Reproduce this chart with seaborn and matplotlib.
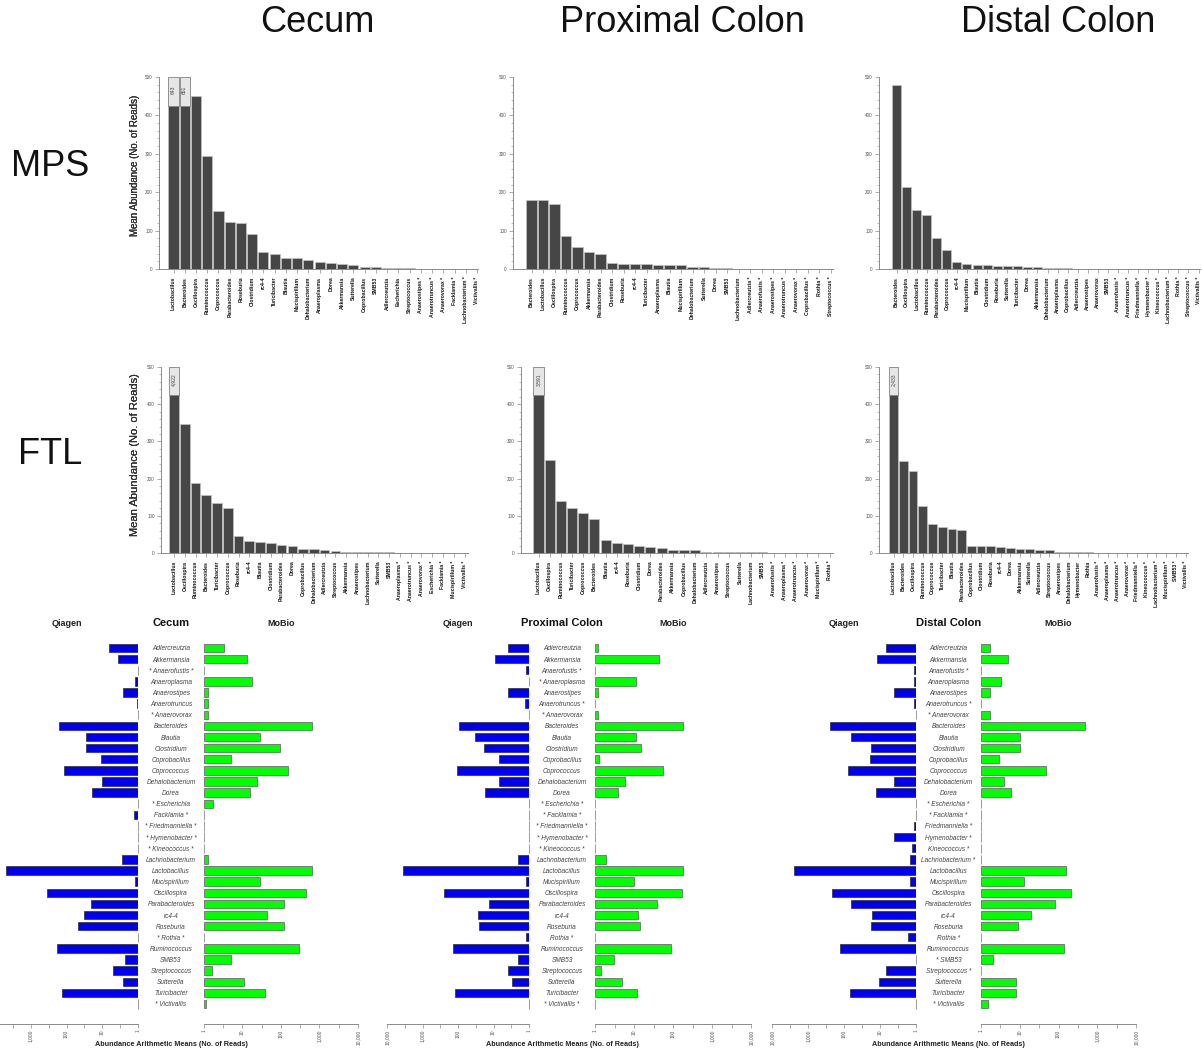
import numpy as np
import pandas as pd
import matplotlib
matplotlib.use("Agg")
import matplotlib.pyplot as plt
import seaborn as sns
from matplotlib.ticker import MultipleLocator, FixedLocator, NullFormatter

# ---------------- data: top rows (mean abundance, sorted) ----------------
cecum_mps_genus = ["Lactobacillus", "Bacteroides", "Oscillospira", "Ruminococcus", "Coprococcus",
                   "Parabacteroides", "Roseburia", "Clostridium", "rc4-4", "Turicibacter", "Blautia",
                   "Mucispirillum", "Dehalobacterium", "Anaeroplasma", "Dorea", "Akkermansia", "Sutterella",
                   "Coprobacillus", "SMB53", "Adlercreutzia", "Escherichia", "Streptococcus",
                   "Anaerostipes *", "Anaerotruncus *", "Anaerovorax *", "Facklamia *",
                   "Lachnobacterium *", "Victivallis *"]
cecum_mps_reads = [643, 651, 450, 295, 150, 123, 120, 92, 43, 39, 29, 28, 24, 18, 16, 13, 11,
                   5, 5, 3, 2, 2, 0, 0, 0, 0, 0, 0]

pc_mps_genus = ["Bacteroides", "Lactobacillus", "Oscillospira", "Ruminococcus", "Coprococcus",
                "Akkermansia", "Parabacteroides", "Clostridium", "Roseburia", "rc4-4", "Turicibacter",
                "Anaeroplasma", "Blautia", "Mucispirillum", "Dehalobacterium", "Sutterella", "Dorea",
                "SMB53", "Lachnobacterium", "Adlercreutzia *", "Anaerofustis *", "Anaerostipes *",
                "Anaerotruncus *", "Anaerovorax *", "Coprobacillus *", "Rothia *", "Streptococcus *"]
pc_mps_reads = [180, 180, 170, 87, 57, 43, 39, 15, 14, 13, 12, 11, 11, 10, 6, 4, 3, 2, 1,
                0, 0, 0, 0, 0, 0, 0, 0]

dc_mps_genus = ["Bacteroides", "Oscillospira", "Lactobacillus", "Ruminococcus", "Parabacteroides",
                "Coprococcus", "rc4-4", "Mucispirillum", "Blautia", "Clostridium", "Roseburia",
                "Sutterella", "Turicibacter", "Dorea", "Akkermansia", "Dehalobacterium", "Anaeroplasma",
                "Coprobacillus", "Adlercreutzia", "Anaerostipes", "Anaerovorax", "SMB53",
                "Anaerofustis *", "Anaerotruncus *", "Friedmanniella *", "Hymenobacter *",
                "Kineococcus *", "Lachnobacterium *", "Rothia *", "Streptococcus *", "Victivallis *"]
dc_mps_reads = [480, 214, 153, 141, 80, 49, 19, 13, 10, 10, 9, 8, 8, 6, 5, 3, 2, 2, 1, 1, 1, 1,
                0, 0, 0, 0, 0, 0, 0, 0, 0]

cecum_ftl_genus = ["Lactobacillus", "Oscillospira", "Ruminococcus", "Bacteroides", "Turicibacter",
                   "Coprococcus", "Roseburia", "rc4-4", "Blautia", "Clostridium", "Parabacteroides",
                   "Dorea", "Coprobacillus", "Dehalobacterium", "Adlercreutzia", "Streptococcus",
                   "Akkermansia", "Anaerostipes", "Lachnobacterium", "Sutterella", "SMB53",
                   "Anaeroplasma *", "Anaerotruncus *", "Anaerovorax *", "Escherichia *", "Facklamia *",
                   "Mucispirillum *", "Victivallis *"]
cecum_ftl_reads = [4922, 347, 189, 157, 135, 120, 47, 33, 29, 28, 21, 19, 11, 10, 7, 5, 4, 3, 3, 3, 2,
                   0, 0, 0, 0, 0, 0, 0]

pc_ftl_genus = ["Lactobacillus", "Oscillospira", "Ruminococcus", "Turicibacter", "Coprococcus",
                "Bacteroides", "Blautia", "rc4-4", "Roseburia", "Clostridium", "Dorea", "Parabacteroides",
                "Akkermansia", "Coprobacillus", "Dehalobacterium", "Adlercreutzia", "Anaerostipes",
                "Streptococcus", "Sutterella", "Lachnobacterium", "SMB53", "Anaerofustis *",
                "Anaeroplasma *", "Anaerotruncus *", "Anaerovorax *", "Mucispirillum *", "Rothia *"]
pc_ftl_reads = [3591, 250, 141, 121, 107, 92, 34, 28, 25, 19, 17, 13, 9, 7, 7, 4, 4, 4, 3, 2, 2,
                0, 0, 0, 0, 0, 0]

dc_ftl_genus = ["Lactobacillus", "Bacteroides", "Oscillospira", "Ruminococcus", "Coprococcus",
                "Turicibacter", "Blautia", "Parabacteroides", "Coprobacillus", "Clostridium", "Roseburia",
                "rc4-4", "Dorea", "Akkermansia", "Sutterella", "Adlercreutzia", "Streptococcus",
                "Anaerostipes", "Dehalobacterium", "Hymenobacter", "Rothia", "Anaerofustis *",
                "Anaeroplasma *", "Anaerotruncus *", "Anaerovorax *", "Friedmanniella *", "Kineococcus *",
                "Lachnobacterium *", "Mucispirillum *", "SMB53 *", "Victivallis *"]
dc_ftl_reads = [2433, 246, 221, 127, 77, 70, 65, 62, 19, 18, 18, 17, 13, 12, 11, 8, 7, 4, 4, 4, 2,
                0, 0, 0, 0, 0, 0, 0, 0, 0, 0]

# ---------------- data: bottom row (Qiagen vs MoBio, log scale) ----------------
cecum_labels = ["Adlercreutzia", "Akkermansia", "* Anaerofustis *", "Anaeroplasma", "Anaerostipes",
                "Anaerotruncus", "* Anaerovorax", "Bacteroides", "Blautia", "Clostridium", "Coprobacillus",
                "Coprococcus", "Dehalobacterium", "Dorea", "* Escherichia", "Facklamia *",
                "* Friedmanniella *", "* Hymenobacter *", "* Kineococcus *", "Lachnobacterium",
                "Lactobacillus", "Mucispirillum", "Oscillospira", "Parabacteroides", "rc4-4", "Roseburia",
                "* Rothia *", "Ruminococcus", "SMB53", "Streptococcus", "Sutterella", "Turicibacter",
                "* Victivallis"]
cecum_qiagen = [6.5, 3.6, 0, 1.2, 2.6, 1.1, 0, 157, 29, 28, 11, 120, 10, 19, 0, 1.3, 0, 0, 0, 2.8,
                4922, 1.2, 347, 21, 33, 47, 0, 189, 2.3, 5, 2.6, 135, 0]
cecum_mobio = [3.3, 13, 0, 18, 1.25, 1.25, 1.25, 651, 29, 92, 5, 150, 24, 16, 1.7, 0, 0, 0, 0, 1.25,
               643, 28, 450, 123, 43, 120, 0, 295, 5, 1.6, 11, 39, 1.15]

pc_labels = ["Adlercreutzia", "Akkermansia", "Anaerofustis *", "* Anaeroplasma", "Anaerostipes",
             "Anaerotruncus *", "* Anaerovorax", "Bacteroides", "Blautia", "Clostridium", "Coprobacillus",
             "Coprococcus", "Dehalobacterium", "Dorea", "* Escherichia *", "* Facklamia *",
             "* Friedmanniella *", "* Hymenobacter *", "* Kineococcus *", "Lachnobacterium",
             "Lactobacillus", "Mucispirillum", "Oscillospira", "Parabacteroides", "rc4-4", "Roseburia",
             "Rothia *", "Ruminococcus", "SMB53", "Streptococcus", "Sutterella", "Turicibacter",
             "* Victivallis *"]
pc_qiagen = [4, 9, 1.2, 0, 4, 1.3, 0, 92, 34, 19, 7, 107, 7, 17, 0, 0, 0, 0, 0, 2,
             3591, 1.2, 250, 13, 28, 25, 1.2, 141, 2, 4, 3, 121, 0]
pc_mobio = [1.17, 43, 0, 11, 1.17, 0, 1.17, 180, 11, 15, 1.25, 57, 6, 4, 0, 0, 0, 0, 0, 1.9,
            180, 10, 170, 39, 13, 14, 0, 87, 3, 1.4, 5, 12, 0]

dc_labels = ["Adlercreutzia", "Akkermansia", "Anaerofustis *", "Anaeroplasma", "Anaerostipes",
             "Anaerotruncus *", "* Anaerovorax", "Bacteroides", "Blautia", "Clostridium", "Coprobacillus",
             "Coprococcus", "Dehalobacterium", "Dorea", "* Escherichia *", "* Facklamia *",
             "Friedmanniella *", "Hymenobacter *", "Kineococcus *", "Lachnobacterium *",
             "Lactobacillus", "Mucispirillum", "Oscillospira", "Parabacteroides", "rc4-4", "Roseburia",
             "Rothia *", "Ruminococcus", "* SMB53", "Streptococcus *", "Sutterella", "Turicibacter",
             "* Victivallis"]
dc_qiagen = [7, 12, 1.16, 1.16, 4, 1.16, 0, 246, 65, 18, 19, 77, 4, 13, 0, 0, 1.16, 4, 1.27, 1.5,
             2433, 1.5, 221, 62, 17, 18, 1.7, 127, 0, 7, 11, 70, 0]
dc_mobio = [1.7, 5, 0, 3.2, 1.7, 0, 1.7, 480, 10, 10, 3, 49, 4, 6, 0, 0, 0, 0, 0, 0,
            153, 13, 214, 80, 19, 9, 0, 141, 2, 0, 8, 8, 1.5]

log_ticks = [1, 10, 100, 1000, 10000]
log_tick_labels = ["1", "10", "100", "1,000", "10,000"]

# ---------------- figure ----------------
sns.set_style("white")
plt.rcParams["font.family"] = ["Liberation Sans", "DejaVu Sans"]

W, H = 1202, 1053
fig = plt.figure(figsize=(W / 100, H / 100), dpi=100)


def rect(x0, y0, x1, y1):
    return [x0 / W, 1 - y1 / H, (x1 - x0) / W, (y1 - y0) / H]


Y_MAX = 500
BREAK_AT = 425
AXIS_GRAY = "#8a8a8a"


def top_panel(genus, reads, x0, x1, y_top, y_bot, c_first, c_last, ylab_size, ylab_frac):
    n = len(genus)
    step = (c_last - c_first) / (n - 1)
    ax = fig.add_axes(rect(x0, y_top, x1, y_bot))
    shown = [BREAK_AT if v > Y_MAX else v for v in reads]
    df = pd.DataFrame({"genus": genus, "reads": shown})
    sns.barplot(data=df, x="genus", y="reads", order=genus, color="#464646", saturation=1,
                width=0.9, edgecolor="#c4c4c4", linewidth=0.5, ax=ax)
    over = [i for i, v in enumerate(reads) if v > Y_MAX]
    if over:
        ax.bar(over, [Y_MAX - BREAK_AT] * len(over), bottom=BREAK_AT, width=0.9,
               color="#e6e6e6", edgecolor="#6a6a6a", linewidth=0.5, clip_on=False)
        for i in over:
            ax.text(i, (BREAK_AT + Y_MAX) / 2 + 3, f"{reads[i]:,}", rotation=90, ha="center",
                    va="center", fontsize=3.6, color="#444444")
    ax.set_xlim(-(c_first - x0) / step, (n - 1) + (x1 - c_last) / step)
    ax.set_ylim(0, Y_MAX)
    ax.yaxis.set_major_locator(MultipleLocator(100))
    ax.yaxis.set_minor_locator(MultipleLocator(20))
    ax.set_xticks(range(n), labels=genus, rotation=90, fontweight="bold", fontsize=3.7, color="#111111")
    ax.tick_params(axis="x", bottom=True, length=3, width=0.5, color=AXIS_GRAY, pad=2.5)
    ax.tick_params(axis="y", which="major", left=True, length=3, width=0.5, color=AXIS_GRAY,
                   labelsize=3.3, labelcolor="#555555", pad=1.5)
    ax.tick_params(axis="y", which="minor", left=True, length=1.5, width=0.4, color=AXIS_GRAY)
    for s in ["top", "right"]:
        ax.spines[s].set_visible(False)
    for s in ["left", "bottom"]:
        ax.spines[s].set_color(AXIS_GRAY)
        ax.spines[s].set_linewidth(0.7)
    ax.set_xlabel("")
    ax.set_ylabel("Mean Abundance (No. of Reads)", fontsize=ylab_size, color="#333333")
    ax.yaxis.set_label_coords(-(x0 - 140) / (x1 - x0), ylab_frac)


# top row (MPS)
top_panel(cecum_mps_genus, cecum_mps_reads, 159, 478, 77, 269, 173.5, 477.0, 7.0, 0.54)
top_panel(pc_mps_genus, pc_mps_reads, 513, 833, 77, 269, 531.5, 830.5, 7.0, 0.54)
top_panel(dc_mps_genus, dc_mps_reads, 879, 1200, 77, 269, 896.5, 1198.5, 7.0, 0.54)
# middle row (FTL)
top_panel(cecum_ftl_genus, cecum_ftl_reads, 161, 468, 367, 553, 174.0, 464.5, 8.0, 0.53)
top_panel(pc_ftl_genus, pc_ftl_reads, 521, 833, 367, 553, 538.5, 829.5, 8.0, 0.53)
top_panel(dc_ftl_genus, dc_ftl_reads, 879, 1188, 367, 553, 893.5, 1185.5, 8.0, 0.53)

# headings
for txt, x in [("Cecum", 317), ("Proximal Colon", 682), ("Distal Colon", 1058)]:
    fig.text(x / W, 1 - 23 / H, txt, fontsize=26, ha="center", va="center", color="#111111")
for txt, y in [("MPS", 166), ("FTL", 454)]:
    fig.text(50 / W, 1 - y / H, txt, fontsize=26, ha="center", va="center", color="#111111")

# ---------------- bottom row ----------------
ROW0_Y, ROW_STEP = 648, 11.125
B_TOP, B_AXIS = 640, 1024


def bottom_panel(labels, qiagen, mobio, q0, q1, m0, m1, title):
    n = len(labels)
    y_top_val = -(ROW0_Y - B_TOP) / ROW_STEP
    y_bot_val = (n - 1) + (B_AXIS - (ROW0_Y + (n - 1) * ROW_STEP)) / ROW_STEP
    center = (q1 + m0) / 2
    axes = []
    for (x0, x1, vals, color, edge, lim) in [
        (q0, q1, qiagen, "#0000ee", "#3a3a66", (10000, 1)),
        (m0, m1, mobio, "#00ff00", "#6e6e6e", (1, 10000)),
    ]:
        ax = fig.add_axes(rect(x0, B_TOP, x1, B_AXIS))
        df = pd.DataFrame({"genus": labels, "reads": [v if v > 0 else np.nan for v in vals]})
        sns.barplot(data=df, x="reads", y="genus", order=labels, orient="h", color=color,
                    saturation=1, width=0.76, edgecolor=edge, linewidth=0.6, ax=ax)
        ax.set_xscale("log")
        # bars start at the log axis origin (1 read) instead of 0
        for p in ax.patches:
            w = p.get_width()
            if np.isfinite(w) and w > 0:
                p.set_x(1)
                p.set_width(w - 1)
        zeros = [i for i, v in enumerate(vals) if v <= 0]
        ax.vlines([1] * len(zeros), [i - 0.42 for i in zeros], [i + 0.42 for i in zeros],
                  color="#9a9a9a", lw=0.7, clip_on=False)
        ax.set_xlim(*lim)
        ax.set_ylim(y_bot_val, y_top_val)
        ax.set_xticks(log_ticks, labels=log_tick_labels, rotation=90, fontsize=3.5, color="#555555")
        ax.xaxis.set_minor_locator(FixedLocator([10 ** (k + 0.5) for k in range(4)]))
        ax.xaxis.set_minor_formatter(NullFormatter())
        ax.tick_params(axis="x", which="both", bottom=True, length=3, width=0.5, color=AXIS_GRAY, pad=1)
        for s in ["top", "right", "left"]:
            ax.spines[s].set_visible(False)
        ax.spines["bottom"].set_color(AXIS_GRAY)
        ax.spines["bottom"].set_linewidth(0.7)
        ax.set_xlabel("")
        ax.set_ylabel("")
        axes.append(ax)
    qa, ma = axes
    # a tick label that would fall outside the figure is not shown (as in the original)
    for t, lbl in zip(log_ticks, qa.get_xticklabels()):
        xpix = q1 - (q1 - q0) * np.log10(t) / 4
        if xpix < 4:
            lbl.set_visible(False)
    qa.tick_params(axis="y", left=False, labelleft=False)
    pad_pt = (m0 - center) * 72 / 100
    ma.tick_params(axis="y", left=False, length=0, pad=pad_pt)
    ma.set_yticks(range(n), labels=labels, ha="center", fontsize=4.7, style="italic", color="#444444")

    q100 = q1 - 2 * (q1 - q0) / 4
    m100 = m0 + 2 * (m1 - m0) / 4
    fig.text(q100 / W, 1 - 623 / H, "Qiagen", fontsize=6.5, fontweight="bold", ha="center",
             va="center", color="#222222")
    fig.text(m100 / W, 1 - 623 / H, "MoBio", fontsize=6.5, fontweight="bold", ha="center",
             va="center", color="#222222")
    fig.text(center / W, 1 - 623 / H, title, fontsize=8, fontweight="bold", ha="center",
             va="center", color="#111111")
    fig.text(center / W, 1 - 1045 / H, "Abundance Arithmetic Means (No. of Reads)", fontsize=5.2,
             fontweight="bold", ha="center", va="center", color="#222222")


bottom_panel(cecum_labels, cecum_qiagen, cecum_mobio, -5, 138, 204, 358, "Cecum")
bottom_panel(pc_labels, pc_qiagen, pc_mobio, 387, 529, 595, 751, "Proximal Colon")
bottom_panel(dc_labels, dc_qiagen, dc_mobio, 772, 916, 981, 1136, "Distal Colon")

fig.savefig("out.png", dpi=100)
